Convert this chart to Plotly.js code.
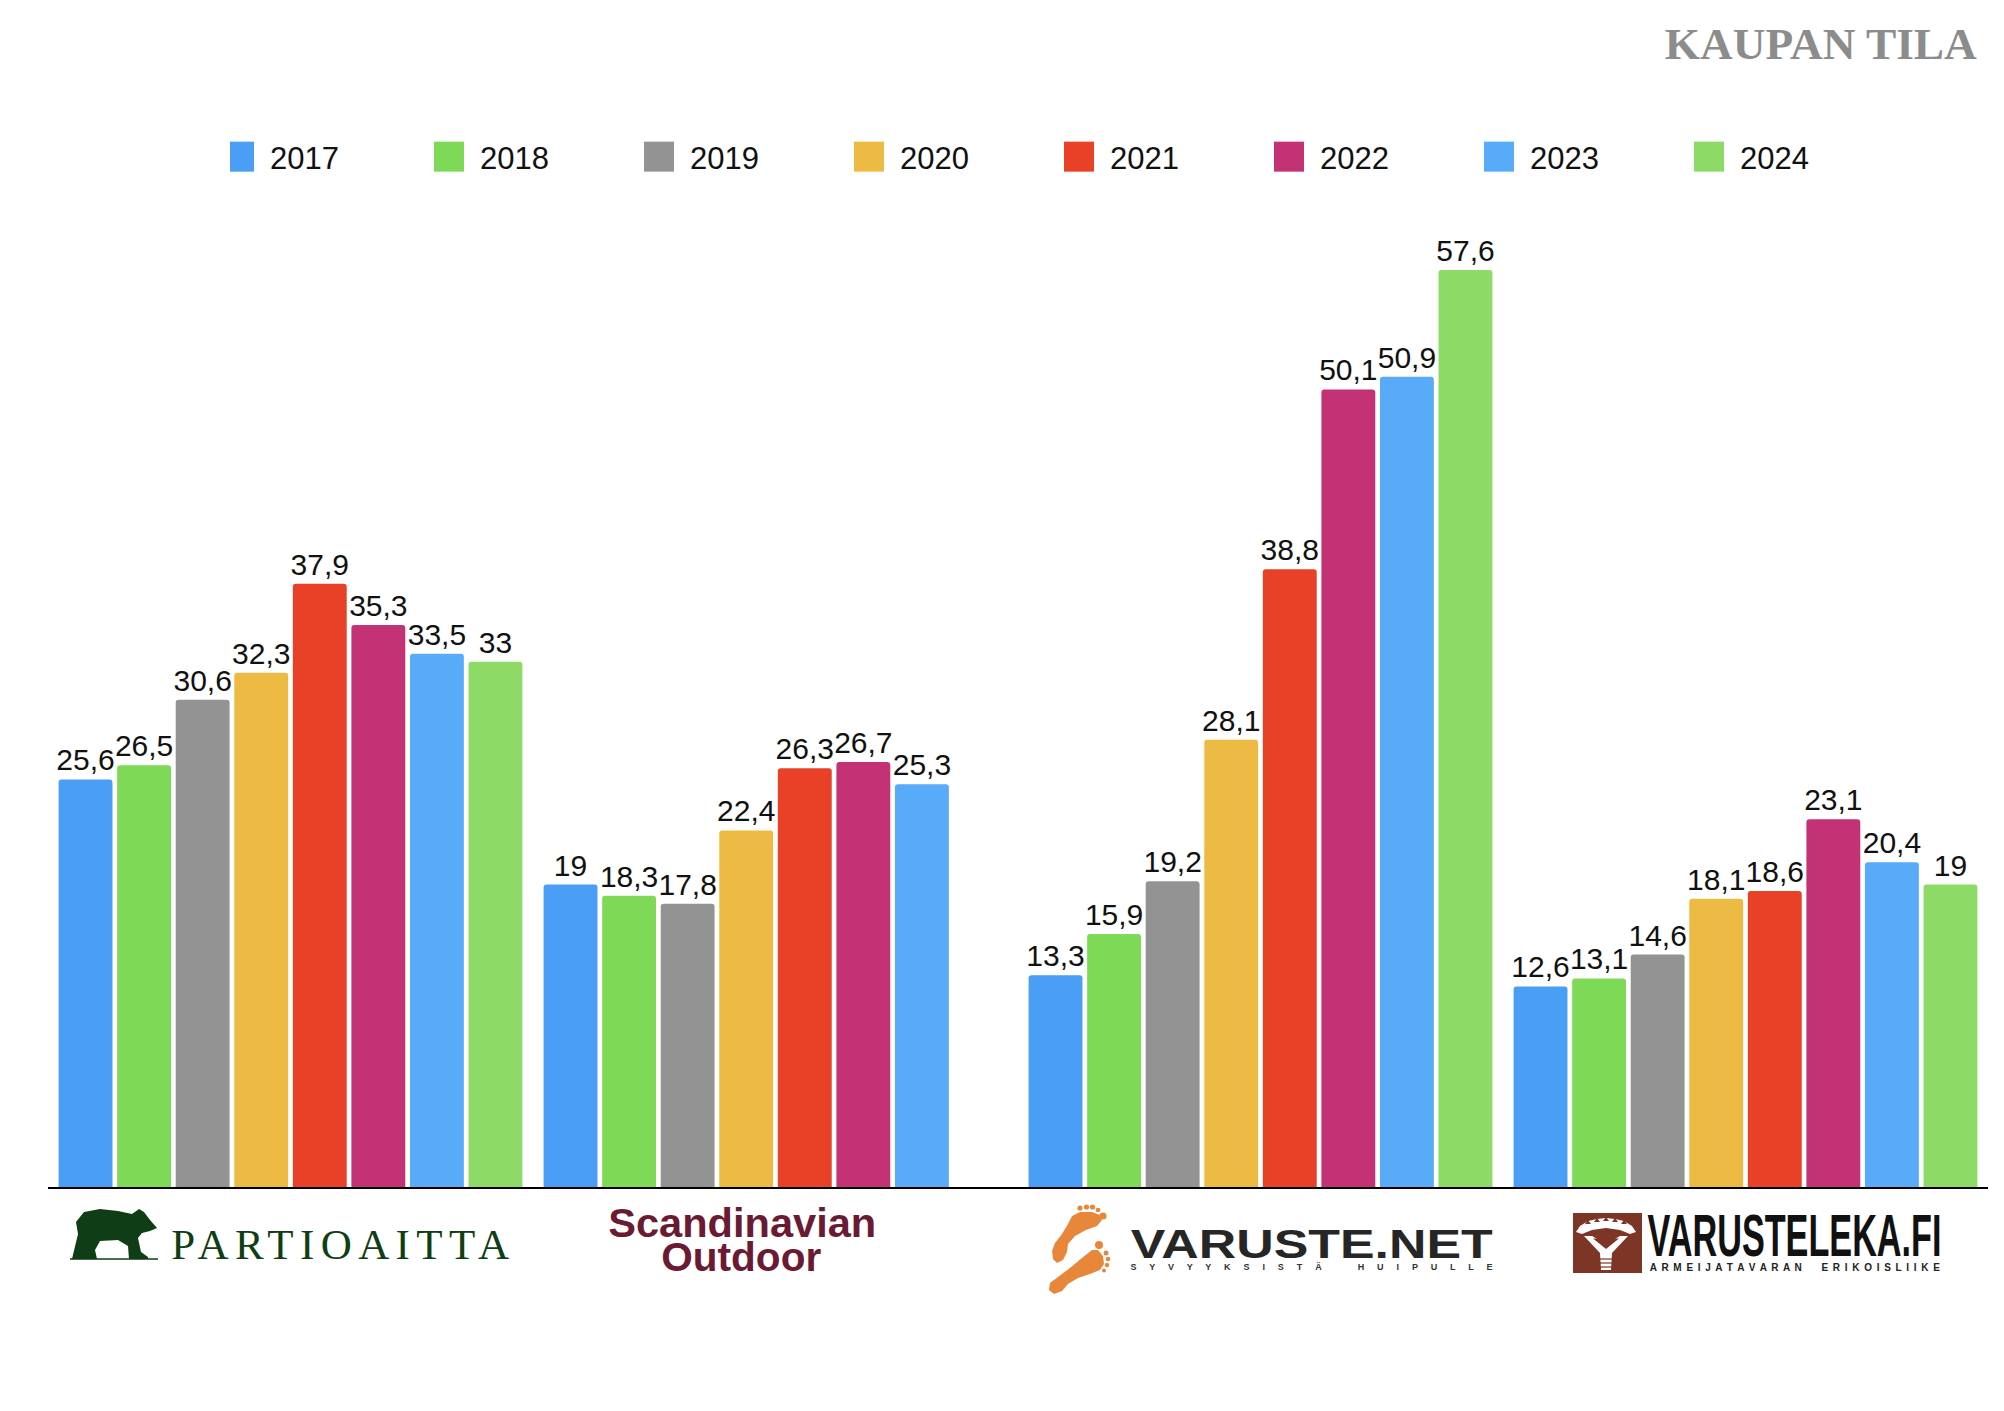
<!DOCTYPE html>
<html>
<head>
<meta charset="utf-8">
<script src="https://cdn.plot.ly/plotly-3.0.1.min.js"></script>
<style>html,body{margin:0;padding:0;background:#fff;}#chart{width:2004px;height:1411px;}</style>
</head>
<body>
<div id="chart"></div>
<script>
// ---- data ----
const stores = ['Partioaitta', 'Scandinavian Outdoor', 'Varuste.net', 'Varusteleka'];
const years = ['2017', '2018', '2019', '2020', '2021', '2022', '2023', '2024'];
const v2017 = [25.6, 19, 13.3, 12.6];
const v2018 = [26.5, 18.3, 15.9, 13.1];
const v2019 = [30.6, 17.8, 19.2, 14.6];
const v2020 = [32.3, 22.4, 28.1, 18.1];
const v2021 = [37.9, 26.3, 38.8, 18.6];
const v2022 = [35.3, 26.7, 50.1, 23.1];
const v2023 = [33.5, 25.3, 50.9, 20.4];
const v2024 = [33, null, 57.6, 19];
const yearColors = ['#4a9ef5', '#7ed957', '#939393', '#edbb43', '#e84127', '#c23274', '#58abf8', '#8ddb66'];
const series = [v2017, v2018, v2019, v2020, v2021, v2022, v2023, v2024];

// ---- layout geometry ----
const L = 48, W = 1940, T = 200, H = 987;
const px = x => (x - L) / W;
const py = y => (T + H - y) / H;
const path = pts => 'M' + pts.map(p => px(p[0]).toFixed(5) + ',' + py(p[1]).toFixed(5)).join('L') + 'Z';
const circ = (cx, cy, r, col) => ({type: 'circle', xref: 'paper', yref: 'paper', x0: px(cx - r), x1: px(cx + r), y0: py(cy + r), y1: py(cy - r), fillcolor: col, line: {width: 0}});
const poly = (pts, col) => ({type: 'path', xref: 'paper', yref: 'paper', path: path(pts), fillcolor: col, line: {width: 0}});
const hline = (x0, x1, y, col, w) => ({type: 'line', xref: 'paper', yref: 'paper', x0: px(x0), x1: px(x1), y0: py(y), y1: py(y), line: {color: col, width: w}});

const fmt = v => (v === null ? '' : String(v).replace('.', ','));

const traces = years.map((yr, i) => ({
  type: 'bar',
  name: yr,
  x: stores,
  y: series[i],
  text: series[i].map(fmt),
  textposition: 'outside',
  constraintext: 'none',
  cliponaxis: false,
  textfont: {family: 'Liberation Sans, Arial, sans-serif', size: 30, color: '#111'},
  marker: {color: yearColors[i], line: {width: 0}},
  hoverinfo: 'x+y+name'
}));

const sans = 'Liberation Sans, Arial, sans-serif';
const serif = 'Liberation Serif, Times New Roman, serif';
// logo texts: [text, centerX, centerY, size, family, weight, color, targetWidth, adjust, verticalScale]
const logos = [
  ['KAUPAN TILA', 1821, 44, 45, serif, 'bold', '#8c8c8c', 312, 'spacingAndGlyphs', 1],
  ['PARTIOAITTA', 340, 1244, 43, serif, 'normal', '#0f3d14', 338, 'spacing', 1],
  ['Scandinavian', 742, 1223, 28, sans, 'bold', '#6b1a33', 268, 'spacingAndGlyphs', 1.43],
  ['Outdoor', 741, 1257, 28, sans, 'bold', '#6b1a33', 160, 'spacingAndGlyphs', 1.43],
  ['VARUSTE.NET', 1311, 1244, 40, sans, 'bold', '#262626', 362, 'spacingAndGlyphs', 1],
  ['S Y V Y Y K S I S T Ä    H U I P U L L E', 1311, 1266.5, 9, sans, 'bold', '#333333', 362, 'spacing', 1],
  ['VARUSTELEKA.FI', 1794, 1236, 32, sans, 'bold', '#111111', 294, 'spacingAndGlyphs', 1.83],
  ['A R M E I J A T A V A R A N     E R I K O I S L I I K E', 1795, 1267.5, 10, sans, 'bold', '#222222', 290, 'spacing', 1]
];

const annotations = logos.map(o => ({
  xref: 'paper', yref: 'paper', x: px(o[1]), y: py(o[2]),
  xanchor: 'center', yanchor: 'middle', showarrow: false,
  text: o[0],
  font: {family: o[4], size: o[3], color: o[6], weight: o[5]}
}));

const green = '#0f3d14', orange = '#e8873a', brown = '#7d3526', white = '#ffffff';
const shapes = [
  // bear
  poly([[72,1259],[78,1234],[76,1222],[84,1212],[100,1209],[118,1211],[132,1214],[139,1209],[144,1212],[150,1220],[157,1228],[150,1231],[142,1233],[138,1238],[141,1252],[148,1257],[148,1259],[129,1259],[128,1246],[118,1240],[100,1241],[95,1250],[97,1259]], green),
  hline(70, 158, 1259, green, 1.5),
  // footprints (upper)
  poly([[1072,1216],[1080,1212],[1092,1212],[1100,1215],[1102,1220],[1097,1226],[1086,1230],[1075,1236],[1068,1244],[1067,1252],[1063,1260],[1057,1263],[1053,1259],[1052,1251],[1055,1243],[1062,1234],[1068,1224]], orange),
  circ(1080, 1208, 2.6, orange), circ(1086.5, 1207, 2.6, orange), circ(1092.5, 1207, 2.6, orange), circ(1098, 1210, 2.3, orange), circ(1103, 1216, 3.6, orange),
  // footprints (lower)
  poly([[1092,1250],[1098,1250],[1103,1256],[1104,1264],[1100,1270],[1090,1274],[1078,1278],[1068,1284],[1062,1291],[1054,1294],[1049,1290],[1050,1283],[1058,1277],[1070,1268],[1082,1258]], orange),
  circ(1099, 1245, 4, orange), circ(1106, 1253, 2.5, orange), circ(1108, 1259, 2.3, orange), circ(1107, 1265, 2.2, orange), circ(1104, 1270.5, 2, orange),
  // varusteleka emblem
  poly([[1573,1213],[1642,1213],[1642,1273],[1573,1273]], brown),
  poly([[1576,1232],[1580,1226],[1588,1221],[1597,1219],[1606,1218],[1615,1219],[1624,1221],[1632,1226],[1636,1232],[1630,1234],[1620,1230],[1606,1228],[1592,1230],[1582,1234]], white),
  poly([[1585,1224],[1588,1220],[1591,1224]], brown), poly([[1594,1222],[1597,1218],[1600,1222]], brown),
  poly([[1603,1221],[1606,1217],[1609,1221]], brown), poly([[1612,1222],[1615,1218],[1618,1222]], brown),
  poly([[1621,1224],[1624,1220],[1627,1224]], brown),
  poly([[1584,1236],[1592,1236],[1606,1244],[1620,1236],[1628,1236],[1612,1253],[1611,1270],[1601,1270],[1600,1253]], white),
  poly([[1593,1238.5],[1619,1238.5],[1606,1249]], brown),
  hline(1600, 1612, 1259, brown, 1.2), hline(1600, 1612, 1263, brown, 1.2), hline(1600, 1612, 1267, brown, 1.2)
];

const layout = {
  width: 2004, height: 1411,
  margin: {l: L, r: 2004 - L - W, t: T, b: 1411 - T - H, pad: 0},
  paper_bgcolor: '#ffffff', plot_bgcolor: '#ffffff',
  barmode: 'group', bargap: 0.034, bargroupgap: 0.08, barcornerradius: 3,
  showlegend: true,
  legend: {orientation: 'h', x: 0.5268, xanchor: 'center', y: py(157), yanchor: 'middle',
           font: {family: sans, size: 31, color: '#111'},
           entrywidth: 165, entrywidthmode: 'pixels', bgcolor: 'rgba(0,0,0,0)', traceorder: 'normal'},
  xaxis: {type: 'category', range: [-0.5, 3.5], showline: true, linecolor: '#000', linewidth: 2,
          showticklabels: false, ticks: '', showgrid: false, zeroline: false, fixedrange: true},
  yaxis: {range: [0, 62], visible: false, showgrid: false, zeroline: false, fixedrange: true},
  annotations: annotations,
  shapes: shapes,
  font: {family: sans}
};

Plotly.newPlot('chart', traces, layout, {displayModeBar: false, staticPlot: true}).then(() => {
  logos.forEach((o, i) => {
    const t = document.querySelector('g.annotation[data-index="' + i + '"] text.annotation-text');
    if (!t) return;
    t.setAttribute('textLength', o[7]);
    t.setAttribute('lengthAdjust', o[8]);
    if (o[9] !== 1) {
      const b = t.getBBox();
      const cy = b.y + b.height / 2;
      const prev = t.getAttribute('transform') || '';
      t.setAttribute('transform', prev + ' translate(0,' + cy + ') scale(1,' + o[9] + ') translate(0,' + (-cy) + ')');
    }
  });
  // larger square legend swatches, as in the reference
  document.querySelectorAll('.legend .legendpoints path').forEach(p => {
    p.setAttribute('d', 'M4,15H-26V-15H4Z');
  });
});
</script>
</body>
</html>
